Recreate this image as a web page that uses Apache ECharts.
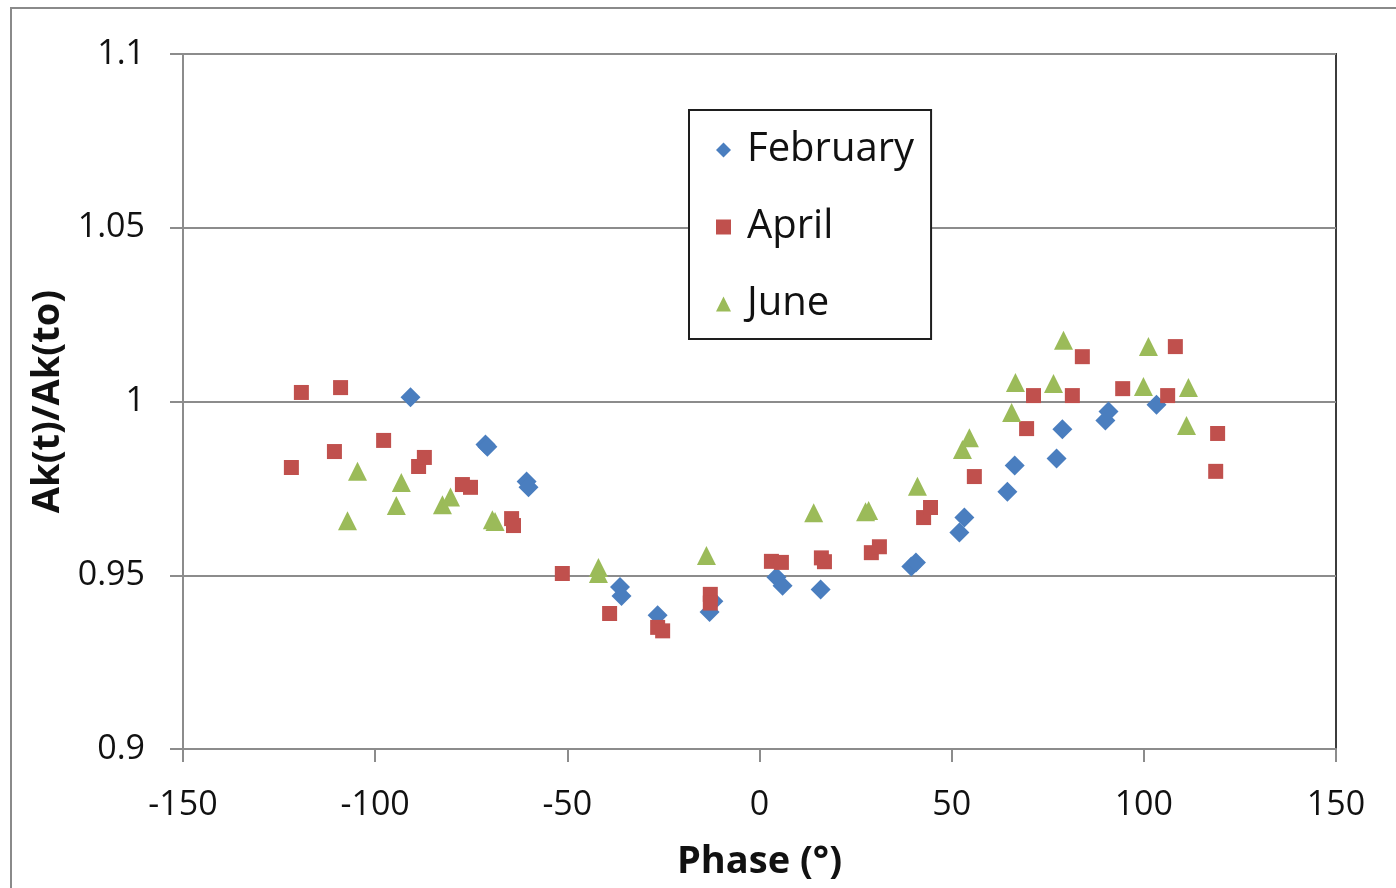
<!DOCTYPE html>
<html>
<head>
<meta charset="utf-8">
<script src="https://cdn.jsdelivr.net/npm/echarts@6/dist/echarts.min.js"></script>
<style>
    html, body {
        margin: 0;
        padding: 0;
        background: #fff;
    }

    #myChart {
        width: 1396px;
        height: 888px;
    }
</style>
</head>
<body>
<div id="myChart"></div>
<script>
    // phase (deg) and amplitude ratio per measurement campaign
    const febPhase = [-90.8, -71.3, -70.8, -60.6, -60.1, -36.3, -35.9, -26.5, -13.0, -12.0, 4.4, 6.0, 15.9, 39.5, 40.7, 52.0, 53.3, 64.5, 66.4, 77.3, 78.8, 90.0, 90.8, 103.3]
    const febRatio = [1.0012, 0.9876, 0.987, 0.977, 0.9753, 0.9466, 0.944, 0.9385, 0.9394, 0.9425, 0.9494, 0.947, 0.9459, 0.9525, 0.9537, 0.9623, 0.9666, 0.974, 0.9816, 0.9836, 0.992, 0.9945, 0.9971, 0.9991]

    const aprPhase = [-121.8, -119.2, -110.6, -109.0, -97.8, -88.7, -87.2, -77.3, -75.2, -64.5, -64.0, -51.3, -39.0, -26.5, -25.2, -12.8, -12.8, 3.1, 5.7, 16.1, 16.9, 29.1, 31.2, 42.7, 44.5, 55.9, 69.5, 71.3, 81.4, 84.0, 94.5, 106.2, 108.2, 118.7, 119.2]
    const aprRatio = [0.981, 1.0026, 0.9856, 1.004, 0.9888, 0.9813, 0.9839, 0.9761, 0.9753, 0.9663, 0.9643, 0.9505, 0.939, 0.935, 0.934, 0.9445, 0.942, 0.954, 0.9537, 0.955, 0.9539, 0.9565, 0.9582, 0.9666, 0.9695, 0.9784, 0.9922, 1.0017, 1.0017, 1.0129, 1.0037, 1.0017, 1.0158, 0.9799, 0.9908]

    const junPhase = [-107.2, -104.6, -94.5, -93.2, -82.5, -80.4, -69.5, -68.8, -41.9, -41.9, -13.8, 14.1, 27.6, 28.4, 41.1, 52.8, 54.6, 65.6, 66.6, 76.5, 79.1, 99.9, 101.2, 111.1, 111.6]
    const junRatio = [0.9657, 0.9799, 0.9701, 0.9767, 0.9703, 0.9725, 0.966, 0.9655, 0.9505, 0.9522, 0.9557, 0.968, 0.9683, 0.9686, 0.9756, 0.9862, 0.9896, 0.9968, 1.0055, 1.0052, 1.0176, 1.0043, 1.0158, 0.9931, 1.004]

    const seriesNames = ['February', 'April', 'June']

    const FONT = '"Open Sans", "Noto Sans", sans-serif'

    function pairs(xs, ys) {
        let out = []
        for (let i = 0; i < xs.length; i++) {
            out.push([xs[i], ys[i]])
        }
        return out
    }

    let MyChart = echarts.init(document.getElementById('myChart'))

    let option = {
        animation: false,
        backgroundColor: '#fff',
        textStyle: {
            fontFamily: FONT
        },
        // outer chart frame
        graphic: [{
            type: 'rect',
            z: -10,
            silent: true,
            shape: {x: 11, y: 8, width: 1420, height: 920},
            style: {fill: null, stroke: '#8a8a8a', lineWidth: 2}
        }],
        grid: {
            left: 183,
            top: 54,
            right: 60,
            bottom: 139,
            show: true,
            borderColor: '#3c3c3c',
            borderWidth: 2
        },
        legend: {
            orient: 'vertical',
            left: 689,
            top: 110,
            backgroundColor: '#fff',
            borderColor: '#1e1e1e',
            borderWidth: 2,
            padding: [20, 17, 15, 27],
            itemGap: 37,
            itemWidth: 15,
            itemHeight: 15,
            data: seriesNames,
            textStyle: {
                fontFamily: FONT,
                fontSize: 40,
                color: '#111',
                lineHeight: 40,
                padding: [0, 0, 0, 11]
            }
        },
        xAxis: {
            type: 'value',
            min: -150,
            max: 150,
            interval: 50,
            name: 'Phase (°)',
            nameLocation: 'middle',
            nameGap: 94,
            nameTextStyle: {
                fontFamily: FONT,
                fontSize: 38,
                fontWeight: 'bold',
                color: '#111'
            },
            axisLine: {onZero: false, lineStyle: {color: '#8c8c8c', width: 2}},
            axisTick: {show: true, length: 13, lineStyle: {color: '#8c8c8c', width: 2}},
            axisLabel: {fontFamily: FONT, fontSize: 34, color: '#111', margin: 39},
            splitLine: {show: false}
        },
        yAxis: {
            type: 'value',
            min: 0.9,
            max: 1.1,
            interval: 0.05,
            name: 'Ak(t)/Ak(to)',
            nameLocation: 'middle',
            nameRotate: 90,
            nameGap: 116,
            nameTextStyle: {
                fontFamily: FONT,
                fontSize: 38,
                fontWeight: 'bold',
                color: '#111'
            },
            axisLine: {show: true, onZero: false, lineStyle: {color: '#8c8c8c', width: 2}},
            axisTick: {show: true, length: 13, lineStyle: {color: '#8c8c8c', width: 2}},
            axisLabel: {
                fontFamily: FONT,
                fontSize: 34,
                color: '#111',
                margin: 38,
                formatter: function (v) {
                    return String(+v.toFixed(2))
                }
            },
            splitLine: {show: true, lineStyle: {color: '#8c8c8c', width: 2}}
        },
        series: [
            {
                name: 'February',
                type: 'scatter',
                symbol: 'diamond',
                symbolSize: 20,
                itemStyle: {color: '#4a7ebf', opacity: 1},
                data: pairs(febPhase, febRatio)
            },
            {
                name: 'April',
                type: 'scatter',
                symbol: 'rect',
                symbolSize: 15,
                itemStyle: {color: '#c0504d', opacity: 1},
                data: pairs(aprPhase, aprRatio)
            },
            {
                name: 'June',
                type: 'scatter',
                symbol: 'triangle',
                symbolSize: 19,
                itemStyle: {color: '#9bbb59', opacity: 1},
                data: pairs(junPhase, junRatio)
            }
        ]
    }

    MyChart.setOption(option)
</script>
</body>
</html>
